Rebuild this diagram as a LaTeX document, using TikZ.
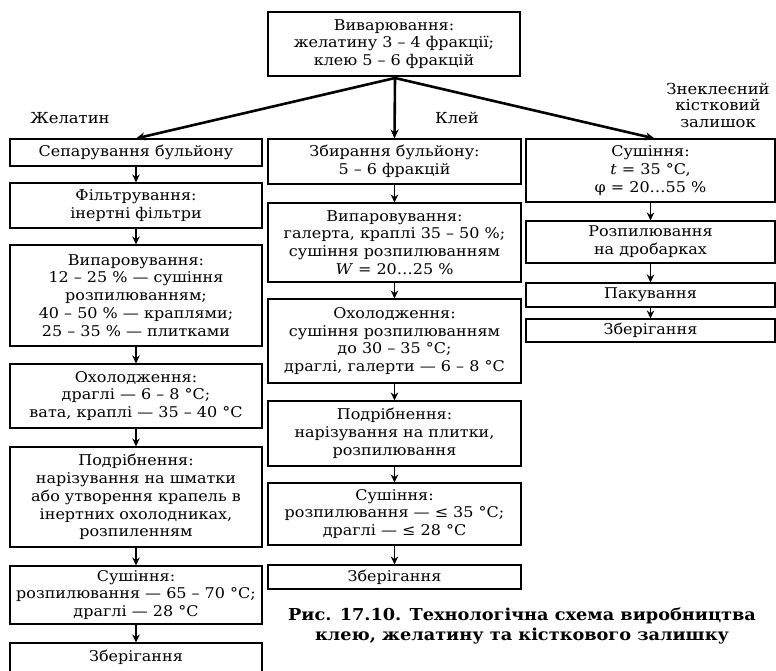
\documentclass[tikz,border=0pt]{standalone}
\usepackage{fontspec}
\setmainfont[FakeStretch=1.08]{DejaVu Serif}
\usepackage{tikz}
\usetikzlibrary{arrows.meta, positioning, calc}

\begin{document}
\begin{tikzpicture}[x=1pt, y=-1pt,
    box/.style={draw, line width=1.1pt, align=center, inner sep=0pt,
                font=\fontsize{14.8}{17.8}\selectfont},
    lbl/.style={align=center, font=\fontsize{15.2}{16.5}\selectfont},
    flow/.style={-{Stealth[length=8pt,width=7.5pt]}, line width=1.6pt},
    branch/.style={-{Stealth[length=9pt,width=8pt]}, line width=2.6pt}]
            \useasboundingbox (0,0) rectangle (776,670);
            % Top
            \node[box, minimum width=252pt, minimum height=64pt] (boil) at (394,44)
                {Виварювання:\\желатину 3 – 4 фракції;\\клею 5 – 6 фракцій};
            \coordinate (fork) at (395,78);
            % Gelatin column
            \node[lbl] (gel) at (70,118) {Желатин};
            \node[box, minimum width=252pt, minimum height=27pt] (gsep) at (136,152.5)
                {Сепарування бульйону};
            \node[box, minimum width=252pt, minimum height=45pt] (gfilt) at (136,205.5)
                {Фільтрування:\\інертні фільтри};
            \node[box, minimum width=252pt, minimum height=101pt] (gevap) at (136,295.5)
                {Випаровування:\\12 – 25 \% — сушіння\\розпилюванням;\\40 – 50 \% — краплями;\\25 – 35 \% — плитками};
            \node[box, minimum width=252pt, minimum height=64pt] (gcool) at (136,396)
                {Охолодження:\\драглі — 6 – 8 °C;\\вата, краплі — 35 – 40 °C};
            \node[box, minimum width=252pt, minimum height=100pt] (ggrind) at (136,497)
                {Подрібнення:\\нарізування на шматки\\або утворення крапель в\\інертних охолодниках,\\розпиленням};
            \node[box, minimum width=252pt, minimum height=58pt] (gdry) at (136,595)
                {Сушіння:\\розпилювання — 65 – 70 °C;\\драглі — 28 °C};
            \node[box, minimum width=252pt, minimum height=29pt] (gstore) at (136,657.5)
                {Зберігання};
            % Glue column
            \node[lbl] (glue) at (457,118) {Клей};
            \node[box, minimum width=253pt, minimum height=45pt] (kcoll) at (394.5,161.5)
                {Збирання бульйону:\\5 – 6 фракцій};
            \node[box, minimum width=253pt, minimum height=79pt] (kevap) at (394.5,242.5)
                {Випаровування:\\галерта, краплі 35 – 50 \%;\\сушіння розпилюванням\\\textit{W} = 20…25 \%};
            \node[box, minimum width=253pt, minimum height=84pt] (kcool) at (394.5,341)
                {Охолодження:\\сушіння розпилюванням\\до 30 – 35 °C;\\драглі, галерти — 6 – 8 °C};
            \node[box, minimum width=253pt, minimum height=65pt] (kgrind) at (394.5,433.5)
                {Подрібнення:\\нарізування на плитки,\\розпилювання};
            \node[box, minimum width=253pt, minimum height=62pt] (kdry) at (394.5,514)
                {Сушіння:\\розпилювання — ≤ 35 °C;\\драглі — ≤ 28 °C};
            \node[box, minimum width=253pt, minimum height=24pt] (kstore) at (394.5,577)
                {Зберігання};
            % Bone residue column
            \node[lbl] (bone) at (718,105) {Знеклеєний\\кістковий\\залишок};
            \node[box, minimum width=249pt, minimum height=63pt] (bdry) at (650.5,170.5)
                {Сушіння:\\\textit{t} = 35 °C,\\φ = 20…55 \%};
            \node[box, minimum width=249pt, minimum height=42pt] (bspray) at (650.5,242)
                {Розпилювання\\на дробарках};
            \node[box, minimum width=249pt, minimum height=24pt] (bpack) at (650.5,295)
                {Пакування};
            \node[box, minimum width=249pt, minimum height=23pt] (bstore) at (650.5,330.5)
                {Зберігання};
            % Caption
            \node[align=center, font=\fontsize{16.4}{19.5}\selectfont\bfseries] (cap) at (522,626)
                {Рис. 17.10. Технологічна схема виробництва\\клею, желатину та кісткового залишку};
            % Arrows
            \draw[branch] (fork) -- (gsep.north);
            \draw[branch] (fork) -- (kcoll.north);
            \draw[branch] (fork) -- ($(bdry.north)+(4,0)$);
            \draw[flow] (gsep) -- (gfilt);
            \draw[flow] (gfilt) -- (gevap);
            \draw[flow] (gevap) -- (gcool);
            \draw[flow] (gcool) -- (ggrind);
            \draw[flow] (ggrind) -- (gdry);
            \draw[flow] (gdry) -- (gstore);
            \draw[flow] (kcoll) -- (kevap);
            \draw[flow] (kevap) -- (kcool);
            \draw[flow] (kcool) -- (kgrind);
            \draw[flow] (kgrind) -- (kdry);
            \draw[flow] (kdry) -- (kstore);
            \draw[flow] (bdry) -- (bspray);
            \draw[flow] (bspray) -- (bpack);
            \draw[flow] (bpack) -- (bstore);
\end{tikzpicture}
\end{document}
